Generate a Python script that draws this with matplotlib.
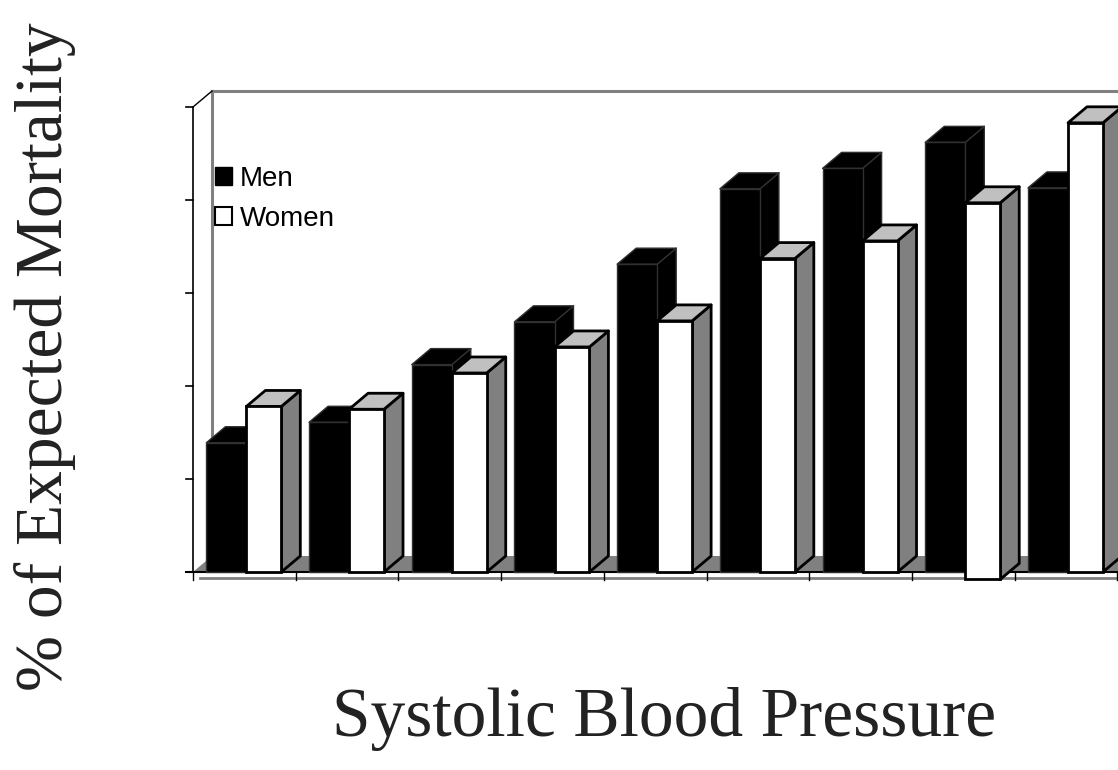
import matplotlib
matplotlib.use("Agg")
import matplotlib.pyplot as plt
from matplotlib.patches import Polygon, Patch

# ---- data (arbitrary units; no tick labels in original) ----
groups = list(range(9))
men = [1.39, 1.61, 2.23, 2.69, 3.31, 4.12, 4.34, 4.62, 4.13]
women = [1.78, 1.75, 2.14, 2.42, 2.70, 3.37, 3.56, 3.97, 4.83]
women_base = [0, 0, 0, 0, 0, 0, 0, -0.08, 0]
ymax = 5

# ---- figure / axes ----
W, H = 1118, 770
fig = plt.figure(figsize=(W / 100, H / 100), dpi=100)
ax_left_px, ax_right_px, ax_top_px, ax_bot_px = 180, 1118, 80, 600
ax = fig.add_axes([ax_left_px / W, (H - ax_bot_px) / H,
                   (ax_right_px - ax_left_px) / W, (ax_bot_px - ax_top_px) / H])
x0_px, xunit_px = 193, 102.7
y0_px, yunit_px = 572, 93.0
ax.set_xlim((ax_left_px - x0_px) / xunit_px, (ax_right_px - x0_px) / xunit_px)
ax.set_ylim((y0_px - ax_bot_px) / yunit_px, (y0_px - ax_top_px) / yunit_px)
ax.axis("off")

dx = 19 / xunit_px
dy = 16 / yunit_px
ngr = len(groups)

BLACK, WHITE, LGRAY, DGRAY = "#000000", "#ffffff", "#c0c0c0", "#808080"

# back wall & floor
floor = Polygon([(0, 0), (ngr, 0), (ngr + dx, dy), (dx, dy)], closed=True,
                facecolor=DGRAY, edgecolor="none", zorder=1)
ax.add_patch(floor)
ax.plot([dx, dx], [dy, ymax + dy], color=DGRAY, lw=2.2, zorder=1.5)
ax.plot([dx, ngr + 1], [ymax + dy, ymax + dy], color=DGRAY, lw=2.2, zorder=1.5)
ax.plot([0, dx], [ymax, ymax + dy], color=BLACK, lw=1, zorder=1.5)
# front value axis with ticks
ax.plot([0, 0], [0, ymax], color=BLACK, lw=1.2, zorder=1.6)
for v in range(ymax + 1):
    ax.plot([-7 / xunit_px, 0], [v, v], color=BLACK, lw=1.2, zorder=1.6)
# floor front edge and category axis
ax.plot([-7 / xunit_px, ngr + 1], [0, 0], color=BLACK, lw=1.5, zorder=1.6)
ax.plot([7 / xunit_px, ngr + 1], [-6 / yunit_px, -6 / yunit_px], color=DGRAY, lw=2, zorder=1.6)
for g in range(ngr + 1):
    ax.plot([g, g], [0, -8 / yunit_px], color=BLACK, lw=1, zorder=1.6)

men_off, men_w = 0.13, 0.39
wom_off, wom_w = 0.52, 0.34


def box(x, w, base, h, front, top, side, edge, lw, z):
    ax.bar([x], [h - base], width=w, bottom=base, align="edge", color=front,
           edgecolor=edge, linewidth=lw, zorder=z + 0.2)
    ax.add_patch(Polygon([(x, h), (x + w, h), (x + w + dx, h + dy), (x + dx, h + dy)],
                         closed=True, facecolor=top, edgecolor=edge, linewidth=lw,
                         zorder=z + 0.1, joinstyle="round"))
    ax.add_patch(Polygon([(x + w, base), (x + w + dx, base + dy), (x + w + dx, h + dy), (x + w, h)],
                         closed=True, facecolor=side, edgecolor=edge, linewidth=lw,
                         zorder=z, joinstyle="round"))


for g in groups:
    z = 2 + g
    box(g + men_off, men_w, 0, men[g], BLACK, BLACK, BLACK, "#303030", 1.0, z)
    box(g + wom_off, wom_w, women_base[g], women[g], WHITE, LGRAY, DGRAY, BLACK, 2.0, z + 0.5)

# legend
handles = [Patch(facecolor=BLACK, edgecolor=BLACK, linewidth=1, label="Men"),
           Patch(facecolor=WHITE, edgecolor=BLACK, linewidth=1.5, label="Women")]
fig.legend(handles=handles, loc="upper left", bbox_to_anchor=(215 / W, 1 - 166 / H),
           frameon=False, prop={"family": "Liberation Sans", "size": 20},
           handlelength=0.6, handleheight=0.6, handletextpad=0.3,
           labelspacing=0.5, borderpad=0, borderaxespad=0)

# axis titles
fig.text(45 / W, 1 - 357 / H, "% of Expected Mortality", rotation=90,
         ha="center", va="center", family="Liberation Serif", size=48.5, color="#222222")
fig.text(664 / W, 1 - 736 / H, "Systolic Blood Pressure", ha="center", va="baseline",
         family="Liberation Serif", size=50, color="#222222")

fig.savefig("out.png", dpi=100)
